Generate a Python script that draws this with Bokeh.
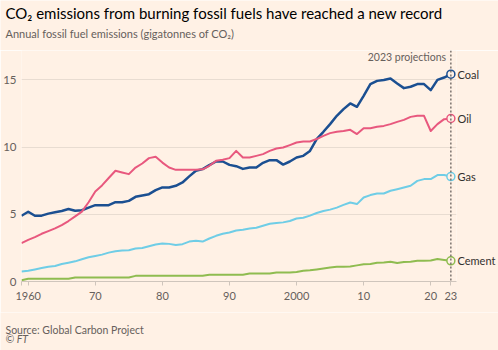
from bokeh.plotting import figure
from bokeh.layouts import column
from bokeh.models import Range1d, FixedTicker, Label, Span, LinearAxis
from bokeh.embed import file_html
from bokeh.resources import INLINE

years = list(range(1959, 2024))

coal = [4.89, 5.19, 4.89, 4.90, 5.05, 5.15, 5.25, 5.39, 5.26, 5.30,
        5.50, 5.68, 5.68, 5.68, 5.90, 5.90, 6.00, 6.30, 6.40, 6.50,
        6.80, 7.00, 7.00, 7.12, 7.37, 7.82, 8.24, 8.36, 8.66, 8.93,
        8.93, 8.68, 8.58, 8.38, 8.48, 8.48, 8.83, 9.03, 9.03, 8.70,
        8.93, 9.23, 9.35, 9.72, 10.60, 11.14, 11.71, 12.33, 12.83, 13.25,
        13.00, 13.82, 14.69, 14.93, 15.00, 15.10, 14.73, 14.39, 14.49, 14.69,
        14.69, 14.24, 15.00, 15.18, 15.43]

oil = [2.86, 3.10, 3.30, 3.55, 3.75, 3.95, 4.20, 4.50, 4.85, 5.20,
       5.90, 6.70, 7.15, 7.70, 8.24, 8.11, 7.99, 8.48, 8.78, 9.18,
       9.28, 8.85, 8.48, 8.31, 8.31, 8.31, 8.31, 8.35, 8.61, 8.98,
       9.06, 9.18, 9.72, 9.23, 9.23, 9.35, 9.48, 9.72, 9.90, 9.97,
       10.15, 10.34, 10.42, 10.42, 10.60, 10.84, 11.04, 11.14, 11.20, 11.29,
       10.97, 11.41, 11.41, 11.51, 11.58, 11.71, 11.88, 12.03, 12.25, 12.33,
       12.33, 11.20, 11.71, 12.08, 12.13]

gas = [0.75, 0.80, 0.90, 1.00, 1.10, 1.15, 1.30, 1.40, 1.50, 1.65,
       1.80, 1.90, 2.00, 2.15, 2.25, 2.30, 2.32, 2.45, 2.50, 2.62,
       2.75, 2.83, 2.80, 2.72, 2.78, 2.97, 3.03, 2.97, 3.20, 3.40,
       3.55, 3.65, 3.80, 3.85, 3.95, 4.00, 4.15, 4.30, 4.35, 4.40,
       4.50, 4.69, 4.75, 4.90, 5.10, 5.25, 5.35, 5.50, 5.70, 5.88,
       5.76, 6.25, 6.43, 6.55, 6.55, 6.75, 6.87, 6.99, 7.12, 7.49,
       7.62, 7.62, 7.92, 7.92, 7.81]

cement = [0.10, 0.20, 0.20, 0.20, 0.20, 0.20, 0.20, 0.20, 0.30, 0.30,
          0.30, 0.30, 0.30, 0.30, 0.30, 0.30, 0.30, 0.42, 0.42, 0.42,
          0.42, 0.42, 0.42, 0.42, 0.42, 0.42, 0.42, 0.42, 0.50, 0.50,
          0.50, 0.50, 0.50, 0.50, 0.60, 0.60, 0.60, 0.60, 0.67, 0.67,
          0.67, 0.70, 0.80, 0.83, 0.90, 0.97, 1.05, 1.09, 1.09, 1.12,
          1.20, 1.29, 1.30, 1.39, 1.42, 1.47, 1.37, 1.45, 1.47, 1.54,
          1.54, 1.56, 1.67, 1.60, 1.54]

series_names = ["Coal", "Oil", "Gas", "Cement"]
series_values = [coal, oil, gas, cement]
series_colors = ["#1B4F91", "#E8587E", "#6FCDE6", "#8FBC50"]

x_ticks = [1959, 1960, 1970, 1980, 1990, 2000, 2010, 2020, 2023]
x_tick_labels = ["", "1960", "70", "80", "90", "2000", "10", "20", "23"]
y_ticks = [0, 5, 10, 15]

title_text = "CO\u2082 emissions from burning fossil fuels have reached a new record"
subtitle_text = "Annual fossil fuel emissions (gigatonnes of CO\u2082)"
source_text = "Source: Global Carbon Project"
copyright_text = "\u00a9 FT"
projection_text = "2023 projections"

BG = "#FFF1E5"
GREY = "#66605C"
DARK = "#33302E"
FONT = "Lato"

W = 498
HEAD_H, MAIN_H, FOOT_H = 50, 262, 38


def text_panel(height):
    f = figure(width=W, height=height, output_backend="svg", toolbar_location=None,
               x_range=Range1d(0, W), y_range=Range1d(height, 0),
               x_axis_type=None, y_axis_type=None, frame_align=False,
               min_border_left=0, min_border_right=0,
               min_border_top=0, min_border_bottom=0)
    f.background_fill_color = BG
    f.border_fill_color = BG
    f.outline_line_color = None
    f.xgrid.grid_line_color = None
    f.ygrid.grid_line_color = None
    return f


# header
head = text_panel(HEAD_H)
head.add_layout(Label(x=5, y=12, text=title_text, text_baseline="middle",
                      text_font=FONT, text_font_size="15px", text_color="#000000"))
head.add_layout(Label(x=5, y=33, text=subtitle_text, text_baseline="middle",
                      text_font=FONT, text_font_size="11px", text_color=GREY))

# main chart
p = figure(width=W, height=MAIN_H, output_backend="svg", toolbar_location=None,
           x_range=Range1d(1959, 2023.84), y_range=Range1d(0, 17.19),
           frame_align=False,
           min_border_left=21, min_border_right=40,
           min_border_top=0, min_border_bottom=31)
p.background_fill_color = BG
p.border_fill_color = BG
p.outline_line_color = None

p.xaxis.ticker = FixedTicker(ticks=x_ticks)
p.xaxis.major_label_overrides = {t: l for t, l in zip(x_ticks, x_tick_labels)}
p.xaxis.axis_line_color = "#CFC5BC"
p.xaxis.major_tick_line_color = "#CFC5BC"
p.xaxis.major_tick_in = 0
p.xaxis.major_tick_out = 4
p.xaxis.minor_tick_line_color = None
p.xaxis.major_label_text_font = FONT
p.xaxis.major_label_text_font_size = "11px"
p.xaxis.major_label_text_color = GREY
p.xaxis.major_label_standoff = 6

p.yaxis.ticker = FixedTicker(ticks=y_ticks)
p.yaxis.axis_line_color = None
p.yaxis.major_tick_line_color = None
p.yaxis.minor_tick_line_color = None
p.yaxis.major_tick_in = 0
p.yaxis.major_tick_out = 0
p.yaxis.major_label_text_font = FONT
p.yaxis.major_label_text_font_size = "11.5px"
p.yaxis.major_label_text_color = GREY
p.yaxis.major_label_standoff = 5

end_vals = [v[-1] for v in series_values]
name_axis = LinearAxis(ticker=FixedTicker(ticks=end_vals),
                       major_label_overrides={v: n for v, n in zip(end_vals, series_names)},
                       axis_line_color=None, major_tick_line_color=None,
                       minor_tick_line_color=None, major_tick_in=0, major_tick_out=0,
                       major_label_standoff=1, major_label_text_font=FONT,
                       major_label_text_font_size="11px", major_label_text_color=DARK)
p.add_layout(name_axis, "right")

p.xgrid.grid_line_color = None
p.ygrid.grid_line_color = "#E8DCD1"
p.ygrid.grid_line_width = 1

p.add_layout(Span(location=2023, dimension="height", line_color=GREY,
                  line_dash="2 2", line_width=1.3))
p.add_layout(Label(x=2022.3, y=16.67, text=projection_text, text_align="right",
                   text_baseline="middle", text_font=FONT, text_font_size="10.5px",
                   text_color=GREY))

for name, vals, col in zip(series_names, series_values, series_colors):
    lw = 2.5 if name == "Coal" else 2.0
    p.line(years, vals, line_color=col, line_width=lw, line_join="round")
    p.scatter([years[-1]], [vals[-1]], size=8, fill_color=BG, line_color=col,
              line_width=1.5)

# footer
foot = text_panel(FOOT_H)
foot.add_layout(Label(x=5, y=17, text=source_text, text_baseline="middle",
                      text_font=FONT, text_font_size="10.5px", text_color=GREY))
foot.add_layout(Label(x=5, y=26, text=copyright_text, text_baseline="middle",
                      text_font=FONT, text_font_size="10.5px", text_color=GREY,
                      text_font_style="italic"))

layout = column(head, p, foot, spacing=0)
open("out.html", "w").write(file_html(layout, INLINE))
